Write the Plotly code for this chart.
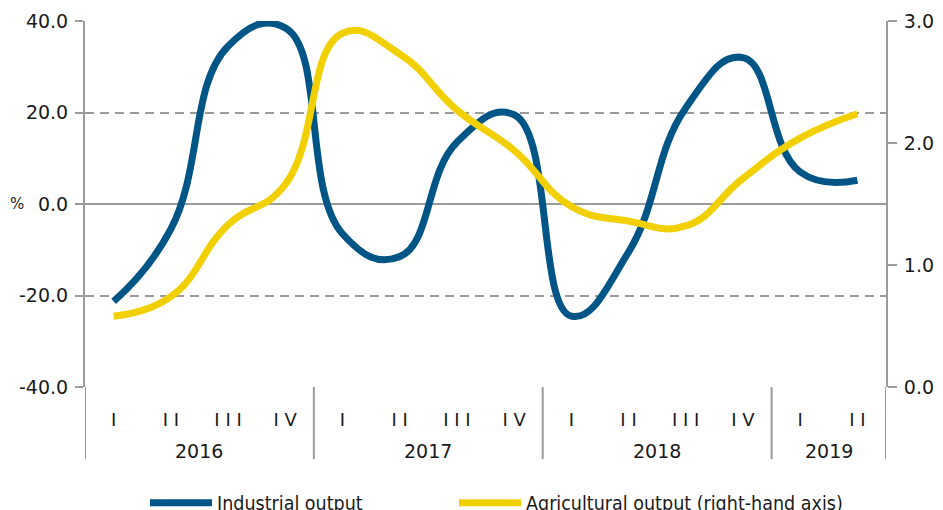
import plotly.graph_objects as go

# ---- data ----
years = ["2016", "2016", "2016", "2016",
         "2017", "2017", "2017", "2017",
         "2018", "2018", "2018", "2018",
         "2019", "2019"]
quarters = ["I", "I I", "I I I", "I V",
            "I", "I I", "I I I", "I V",
            "I", "I I", "I I I", "I V",
            "I", "I I"]
industrial = [-21.3, -5.5, 34.5, 38.5, -6.5, -11.5, 13.5, 19.5,
              -24.5, -10.5, 21.0, 32.0, 7.0, 5.2]
agricultural = [0.58, 0.74, 1.33, 1.66, 2.90, 2.73, 2.27, 1.94,
                1.48, 1.36, 1.32, 1.71, 2.04, 2.24]
left_ticks = [-40, -20, 0, 20, 40]
left_labels = ["-40.0", "-20.0", "0.0", "20.0", "40.0"]
right_ticks = [0, 1, 2, 3]
right_labels = ["0.0", "1.0", "2.0", "3.0"]

BLUE = "#005587"
YELLOW = "#F2D000"
GRID = "#9b9b9b"
TXT = "#1a1a1a"
FONT = "DejaVu Sans"
LEGFONT = "DejaVu Sans Condensed, DejaVu Sans"

# page body adds an 8px offset; figure sized so it ends at the window edge
OFF = 8
W, H = 943 - OFF, 510 - OFF
L, T = 85 - OFF, 21 - OFF
PW, PH = 801, 366
R, B = W - L - PW, H - T - PH

idx = list(range(len(quarters)))

fig = go.Figure()
fig.add_trace(go.Scatter(x=idx, y=industrial, name="Industrial output",
                         mode="lines",
                         line=dict(color=BLUE, width=7, shape="spline", smoothing=1.3),
                         yaxis="y", legend="legend"))
fig.add_trace(go.Scatter(x=idx, y=agricultural, name="Agricultural output (right-hand axis)",
                         mode="lines",
                         line=dict(color=YELLOW, width=7, shape="spline", smoothing=1.3),
                         yaxis="y2", legend="legend2"))

# year group labels and dividers computed from the year list
groups = []
for i, y in enumerate(years):
    if not groups or groups[-1][0] != y:
        groups.append([y, i, i])
    else:
        groups[-1][2] = i

div_y1 = -(459 - 387) / PH
year_y = -(451 - 387) / PH
annotations = []
shapes = []
for name, a, b in groups:
    annotations.append(dict(x=(a + b) / 2, xref="x", y=year_y, yref="paper",
                            text=name, showarrow=False, yanchor="middle",
                            font=dict(family=FONT, size=19, color=TXT)))
    shapes.append(dict(type="line", xref="x", yref="paper", x0=a - 0.5, x1=a - 0.5,
                       y0=0, y1=div_y1, line=dict(color=GRID, width=2)))
shapes.append(dict(type="line", xref="x", yref="paper", x0=groups[-1][2] + 0.5,
                   x1=groups[-1][2] + 0.5, y0=0, y1=div_y1, line=dict(color=GRID, width=2)))

annotations.append(dict(x=(16.5 - 85) / PW, xref="paper", xanchor="center", y=0.0, yref="y",
                        text="%", showarrow=False, font=dict(family=FONT, size=15, color=TXT)))
annotations.append(dict(x=(936 - 85) / PW, xref="paper", xanchor="left", y=0.0, yref="y",
                        text="%", showarrow=False, font=dict(family=FONT, size=15, color=TXT)))

leg_common = dict(orientation="h", xref="container", yref="container",
                  xanchor="left", yanchor="middle", y=1 - (503 - OFF) / H,
                  font=dict(family=LEGFONT, size=19.5, color=TXT),
                  itemwidth=62, bgcolor="rgba(0,0,0,0)")

fig.update_layout(
    width=W, height=H,
    margin=dict(l=L, r=R, t=T, b=B, autoexpand=False),
    paper_bgcolor="white", plot_bgcolor="white",
    showlegend=True,
    legend=dict(x=(150 - OFF - 5) / W, **leg_common),
    legend2=dict(x=(459 - OFF - 5) / W, **leg_common),
    xaxis=dict(range=[-0.5, len(quarters) - 0.5], tickmode="array", tickvals=idx,
               ticktext=quarters, ticks="", showgrid=False, zeroline=False,
               showline=False, ticklabelstandoff=20, automargin=False,
               tickfont=dict(family=FONT, size=18, color=TXT)),
    yaxis=dict(range=[-40, 40], tickmode="array", tickvals=left_ticks,
               ticktext=left_labels, automargin=False,
               ticks="outside", ticklen=8, tickwidth=2, tickcolor=GRID,
               showline=True, linecolor=GRID, linewidth=2,
               showgrid=True, gridcolor=GRID, gridwidth=2, griddash="9px,6px",
               zeroline=True, zerolinecolor=GRID, zerolinewidth=2,
               ticklabelstandoff=3,
               tickfont=dict(family=FONT, size=19, color=TXT)),
    yaxis2=dict(range=[0, 3], overlaying="y", side="right", tickmode="array",
                tickvals=right_ticks, ticktext=right_labels, automargin=False,
                ticks="outside", ticklen=9, tickwidth=2, tickcolor=GRID,
                showline=True, linecolor=GRID, linewidth=2, showgrid=False,
                zeroline=False, ticklabelstandoff=3,
                tickfont=dict(family=FONT, size=19, color=TXT)),
    annotations=annotations,
    shapes=shapes,
)

fig.write_html("out.html")
